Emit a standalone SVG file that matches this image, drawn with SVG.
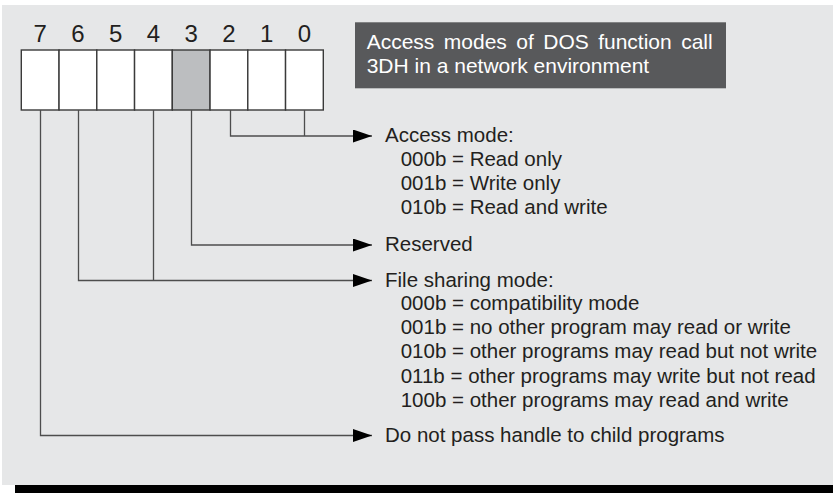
<svg xmlns="http://www.w3.org/2000/svg" width="833" height="493" viewBox="0 0 833 493">
<style>
.t{font-family:"Liberation Sans",Arial,Helvetica,sans-serif;font-size:20.5px;fill:#231f20}
.d{font-family:"Liberation Sans",Arial,Helvetica,sans-serif;font-size:24px;fill:#231f20;text-anchor:middle}
.cell{fill:#ffffff;stroke:#3a3a3a;stroke-width:1.4}
.res{fill:#bcbec0}
.c{fill:none;stroke:#4d4d4d;stroke-width:1.3}
.ttl{font-family:"Liberation Sans",Arial,Helvetica,sans-serif;font-size:21px;fill:#ffffff}
</style>
<defs>
<marker id="ah" markerUnits="userSpaceOnUse" markerWidth="20" markerHeight="14" refX="19" refY="6.5" orient="auto">
<path d="M0,0 L19,6.5 L0,13 z" fill="#000000"/>
</marker>
</defs>
<rect x="0" y="0" width="833" height="493" fill="#ffffff"/>
<rect x="2" y="5" width="831" height="480" fill="#e6e7e8"/>
<rect x="15" y="485" width="818" height="8" fill="#000000"/>

<g id="bits">
<text class="d" x="40.2" y="42">7</text>
<text class="d" x="77.9" y="42">6</text>
<text class="d" x="115.7" y="42">5</text>
<text class="d" x="153.4" y="42">4</text>
<text class="d" x="191.2" y="42">3</text>
<text class="d" x="228.9" y="42">2</text>
<text class="d" x="266.7" y="42">1</text>
<text class="d" x="304.4" y="42">0</text>
<rect class="cell" x="21.3" y="50" width="37.75" height="60"/>
<rect class="cell" x="59.05" y="50" width="37.75" height="60"/>
<rect class="cell" x="96.8" y="50" width="37.75" height="60"/>
<rect class="cell" x="134.55" y="50" width="37.75" height="60"/>
<rect class="cell res" x="172.3" y="50" width="37.75" height="60"/>
<rect class="cell" x="210.05" y="50" width="37.75" height="60"/>
<rect class="cell" x="247.8" y="50" width="37.75" height="60"/>
<rect class="cell" x="285.55" y="50" width="37.75" height="60"/>
</g>

<g id="title">
<rect x="355" y="22.3" width="371" height="66" fill="#58595b"/>
<text class="ttl" x="366.7" y="49" word-spacing="3.6">Access modes of DOS function call</text>
<text class="ttl" x="366.7" y="73">3DH in a network environment</text>
</g>

<g id="connectors">
<path class="c" d="M230.5,110 V136 H372" marker-end="url(#ah)"/>
<path class="c" d="M304.5,110 V136"/>
<path class="c" d="M191.5,110 V245 H372" marker-end="url(#ah)"/>
<path class="c" d="M78.5,110 V280.5 H372" marker-end="url(#ah)"/>
<path class="c" d="M153.5,110 V280.5"/>
<path class="c" d="M40.5,110 V435.5 H372" marker-end="url(#ah)"/>
</g>

<g id="access-mode">
<text class="t" x="385" y="142">Access mode:</text>
<text class="t" x="400.7" y="165.5">000b = Read only</text>
<text class="t" x="400.7" y="189.5">001b = Write only</text>
<text class="t" x="400.7" y="213.5">010b = Read and write</text>
</g>

<g id="reserved">
<text class="t" x="385" y="251">Reserved</text>
</g>

<g id="file-sharing">
<text class="t" x="385" y="286.7">File sharing mode:</text>
<text class="t" x="400.7" y="310">000b = compatibility mode</text>
<text class="t" x="400.7" y="334">001b = no other program may read or write</text>
<text class="t" x="400.7" y="358">010b = other programs may read but not write</text>
<text class="t" x="400.7" y="382.5">011b = other programs may write but not read</text>
<text class="t" x="400.7" y="406.5">100b = other programs may read and write</text>
</g>

<g id="inherit">
<text class="t" x="385" y="442">Do not pass handle to child programs</text>
</g>
</svg>
